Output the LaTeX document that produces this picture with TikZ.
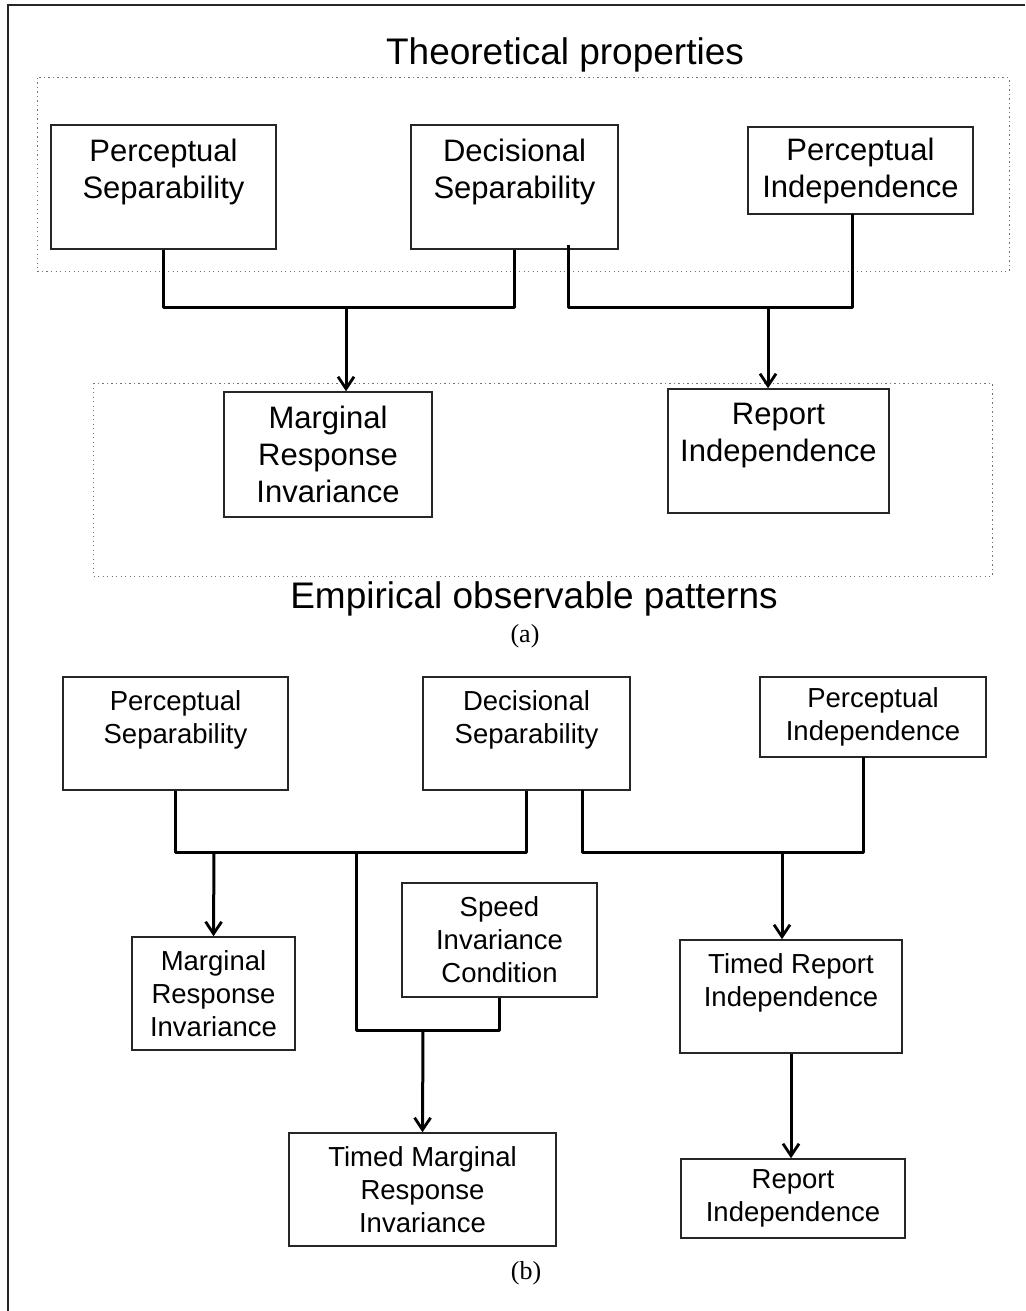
\documentclass[tikz,border=0pt]{standalone}
\usepackage{fontspec}
\setmainfont{Liberation Sans}
\newfontfamily\capfont{Liberation Serif}
\usetikzlibrary{arrows.meta}
\begin{document}
\begin{tikzpicture}[x=1pt,y=-1pt,
  box/.style={draw=black!85, line width=1.5pt, inner sep=0pt, align=center},
  topbox/.style={box, font=\fontsize{31}{37}\selectfont},
  botbox/.style={box, font=\fontsize{27.5}{33}\selectfont},
  conn/.style={line width=3pt, line join=round},
  arr/.style={conn, -{Straight Barb[length=12pt,width=16pt,line width=2.8pt]}},
  dotbox/.style={draw=black!55, line width=1pt, dash pattern=on 1.2pt off 3.3pt},
  heading/.style={font=\fontsize{37}{44}\selectfont},
  caption/.style={font=\capfont\fontsize{26}{30}\selectfont}]
\useasboundingbox (0,0) rectangle (1025,1311);
% outer frame (top and left edges)
\draw[line width=2pt, black!85] (8,1311) -- (8,5) -- (1025,5);
% panel (a)
\node[heading] (h1) at (565,55) {Theoretical properties};
\draw[dotbox] (37,78) rectangle (1009,271);
\draw[dotbox] (93,383) rectangle (992,576);
\node[heading] (h2) at (534,599) {Empirical observable patterns};
\node[caption] (capa) at (525,636) {(a)};

\node[topbox, minimum width=225, minimum height=124] (ps1) at (163.5,187) {Perceptual\\Separability\\\mbox{}};
\node[topbox, minimum width=207, minimum height=124] (ds1) at (514.5,187) {Decisional\\Separability\\\mbox{}};
\node[topbox, minimum width=225, minimum height=87] (pi1) at (860.5,170.5) {Perceptual\\Independence};
\node[topbox, minimum width=208, minimum height=125] (mri1) at (328,454.5) {Marginal\\Response\\Invariance};
\node[topbox, minimum width=221, minimum height=124] (ri1) at (778.5,451) {Report\\Independence\\\mbox{}};

\coordinate (j1) at (346,307);
\coordinate (j2) at (768,307);
\coordinate (s1) at (568,245);
\coordinate (p1) at (852,214);
\draw[conn] (ps1.south) |- (ds1.south |- j1) -- (ds1.south);
\draw[arr] (j1) -- (j1 |- mri1.north);
\draw[conn] (s1) |- (p1 |- j2) -- (p1);
\draw[arr] (j2) -- (j2 |- ri1.north);

% panel (b)
\node[botbox, minimum width=225, minimum height=113] (ps2) at (175.5,733.5) {Perceptual\\Separability\\\mbox{}};
\node[botbox, minimum width=207, minimum height=113] (ds2) at (526.5,733.5) {Decisional\\Separability\\\mbox{}};
\node[botbox, minimum width=226, minimum height=80] (pi2) at (873,717) {Perceptual\\Independence};
\node[botbox, minimum width=195, minimum height=114] (sic) at (499.5,940) {Speed\\Invariance\\Condition};
\node[botbox, minimum width=163, minimum height=113] (mri2) at (213.5,993.5) {Marginal\\Response\\Invariance};
\node[botbox, minimum width=267, minimum height=113] (tmri) at (422.5,1189.5) {Timed Marginal\\Response\\Invariance};
\node[botbox, minimum width=222, minimum height=113] (tri) at (791,996.5) {Timed Report\\Independence\\\mbox{}};
\node[botbox, minimum width=224, minimum height=79] (ri2) at (793,1198.5) {Report\\Independence};
\node[caption] (capb) at (526,1273) {(b)};

\coordinate (j3) at (214,852);
\coordinate (j4) at (356,852);
\coordinate (j5) at (423,1030);
\coordinate (s2) at (582,790);
\coordinate (p2) at (863,757);
\coordinate (j6) at (782,852);
\draw[conn] (ps2.south) |- (ds2.south |- j3) -- (ds2.south);
\draw[arr] (j3) -- (mri2.north);
\draw[conn] (j4) |- (sic.south |- j5) -- (sic.south);
\draw[arr] (j5) -- (tmri.north);
\draw[conn] (s2) |- (p2 |- j6) -- (p2);
\draw[arr] (j6) -- (j6 |- tri.north);
\draw[arr] (tri.south) -- (tri.south |- ri2.north);
\end{tikzpicture}
\end{document}
